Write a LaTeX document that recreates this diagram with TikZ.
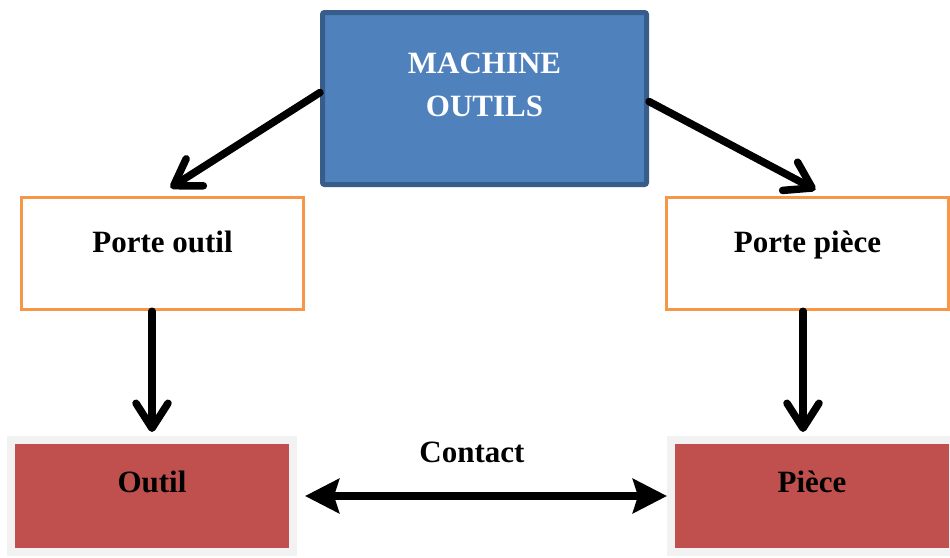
\documentclass[tikz,border=0pt]{standalone}
\usepackage{fontspec}
\setmainfont{Liberation Serif}
\usetikzlibrary{arrows.meta}
\definecolor{machfill}{HTML}{4F81BD}
\definecolor{machdraw}{HTML}{385D8A}
\definecolor{porte}{HTML}{F79646}
\definecolor{piecefill}{HTML}{C0504D}
\definecolor{piecedraw}{HTML}{F2F2F2}
\begin{document}
\begin{tikzpicture}[x=1pt,y=-1pt,
        txt/.style={font=\fontsize{31}{43}\selectfont\bfseries,align=center},
        lbl/.style={txt,text height=22pt,text depth=7pt},
        mach/.style={draw=machdraw,fill=machfill,line width=5pt,rounded corners=2pt,minimum width=324pt,minimum height=172pt,inner sep=0pt},
        porte/.style={draw=porte,fill=white,line width=3.5pt,minimum width=282pt,minimum height=112pt,inner sep=0pt},
        bloc/.style={draw=piecedraw,fill=piecefill,line width=8pt,minimum width=282pt,minimum height=112pt,inner sep=0pt},
        fleche/.style={line width=7.5pt,line cap=round,-{Straight Barb[length=25pt,width=32pt,round]}},
        contact/.style={line width=8pt,{Stealth[length=34pt,width=34pt,inset=5pt]}-{Stealth[length=34pt,width=34pt,inset=5pt]}}
      ]
      \useasboundingbox (0,0) rectangle (950,557);
      \node[mach,label={[txt,text=white,yshift=14pt]center:MACHINE\\OUTILS}] (machine) at (484.5,98.5) {};
      \node[porte,label={[lbl,yshift=9pt]center:Porte outil}] (pOutil) at (162.5,253.5) {};
      \node[porte,label={[lbl,yshift=9pt]center:Porte pièce}] (pPiece) at (807.5,253.5) {};
      \node[bloc,label={[lbl,yshift=11pt]center:Outil}] (outil) at (152,496) {};
      \node[bloc,label={[lbl,yshift=11pt]center:Pièce}] (piece) at (812,496) {};
      \node[lbl] (lContact) at (472,455) {Contact};
      % liaisons
      \draw[fleche] ([yshift=6pt]machine.west) -- ([xshift=8pt,yshift=8pt]pOutil.north);
      \draw[fleche] ([yshift=-3pt]machine.east) -- ([xshift=8pt,yshift=6pt]pPiece.north);
      \draw[fleche] (pOutil.south -| outil.north) -- ([yshift=4pt]outil.north);
      \draw[fleche] ([xshift=-4.5pt]pPiece.south) -- ([xshift=-4.5pt,yshift=4pt]pPiece.south |- piece.north);
      \draw[contact] ([xshift=8pt]outil.east) -- (piece.west);
    \end{tikzpicture}
\end{document}
